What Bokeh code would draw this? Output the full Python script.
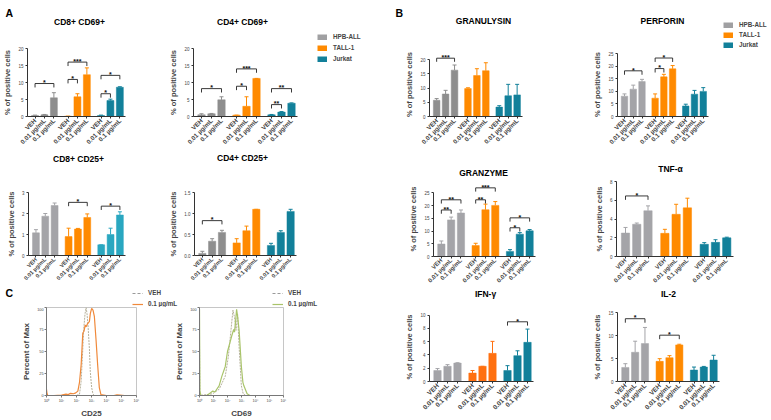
import math
import numpy as np
from bokeh.plotting import figure
from bokeh.layouts import row, column
from bokeh.models import (Range1d, ColumnDataSource, Whisker, TeeHead,
                          Legend, LegendItem, Label, FixedTicker, PrintfTickFormatter)
from bokeh.core.properties import value
from bokeh.embed import file_html
from bokeh.resources import INLINE

FONT = "Liberation Sans"

cell_lines = ["HPB-ALL", "TALL-1", "Jurkat"]
doses = ["VEH", "0.01 µg/mL", "0.1 µg/mL"]

# ---------------- Panel A ----------------
cd8_cd69_mean = [0.3, 0.5, 5.5, 0.1, 5.8, 12.3, 0.3, 4.7, 8.6]
cd8_cd69_err = [0.1, 0.1, 1.5, 0.0, 0.9, 2.0, 0.1, 0.4, 0.15]
cd8_cd69_sig_group = ["HPB-ALL", "TALL-1", "TALL-1", "Jurkat", "Jurkat"]
cd8_cd69_sig_to = ["0.1 µg/mL", "0.01 µg/mL", "0.1 µg/mL", "0.01 µg/mL", "0.1 µg/mL"]
cd8_cd69_sig_y = [9.7, 10.9, 16.0, 6.7, 12.1]
cd8_cd69_sig_text = ["*", "*", "***", "*", "*"]

cd4_cd69_mean = [0.5, 0.8, 4.9, 0.4, 3.0, 11.2, 0.5, 1.3, 3.9]
cd4_cd69_err = [0.3, 0.1, 0.9, 0.0, 2.8, 0.0, 0.1, 0.15, 0.1]
cd4_cd69_sig_group = ["HPB-ALL", "TALL-1", "TALL-1", "Jurkat", "Jurkat"]
cd4_cd69_sig_to = ["0.1 µg/mL", "0.01 µg/mL", "0.1 µg/mL", "0.01 µg/mL", "0.1 µg/mL"]
cd4_cd69_sig_y = [8.2, 8.9, 14.0, 3.5, 8.2]
cd4_cd69_sig_text = ["*", "*", "***", "**", "**"]

cd8_cd25_mean = [1.08, 1.87, 2.38, 0.9, 1.26, 1.81, 0.51, 1.0, 1.93]
cd8_cd25_err = [0.15, 0.13, 0.12, 0.4, 0.03, 0.17, 0.0, 0.3, 0.15]
cd8_cd25_sig_group = ["TALL-1", "Jurkat"]
cd8_cd25_sig_to = ["0.1 µg/mL", "0.1 µg/mL"]
cd8_cd25_sig_y = [2.53, 2.35]
cd8_cd25_sig_text = ["*", "*"]

cd4_cd25_mean = [0.05, 0.34, 0.55, 0.3, 0.59, 1.1, 0.24, 0.55, 1.05]
cd4_cd25_err = [0.05, 0.06, 0.05, 0.1, 0.11, 0.0, 0.05, 0.04, 0.05]
cd4_cd25_sig_group = ["HPB-ALL"]
cd4_cd25_sig_to = ["0.1 µg/mL"]
cd4_cd25_sig_y = [0.83]
cd4_cd25_sig_text = ["*"]

# ---------------- Panel B ----------------
granulysin_mean = [5.7, 7.9, 16.3, 9.8, 14.4, 16.1, 3.3, 7.3, 7.6]
granulysin_err = [0.6, 1.3, 1.8, 0.3, 2.4, 2.8, 0.5, 4.0, 3.7]
granulysin_sig_group = ["HPB-ALL"]
granulysin_sig_to = ["0.1 µg/mL"]
granulysin_sig_y = [20.5]
granulysin_sig_text = ["***"]

perforin_mean = [8.1, 10.9, 13.9, 7.3, 15.8, 19.0, 4.2, 8.9, 10.0]
perforin_err = [0.9, 1.6, 0.9, 1.7, 1.0, 1.3, 0.7, 1.5, 1.5]
perforin_sig_group = ["HPB-ALL", "TALL-1", "TALL-1"]
perforin_sig_to = ["0.1 µg/mL", "0.01 µg/mL", "0.1 µg/mL"]
perforin_sig_y = [18.2, 19.1, 23.3]
perforin_sig_text = ["*", "*", "*"]

granzyme_mean = [4.9, 14.4, 17.1, 4.3, 18.4, 20.1, 2.0, 8.8, 10.1]
granzyme_err = [1.2, 1.1, 1.2, 0.9, 2.2, 1.5, 0.7, 0.6, 0.5]
granzyme_sig_group = ["HPB-ALL", "HPB-ALL", "TALL-1", "TALL-1", "Jurkat", "Jurkat"]
granzyme_sig_to = ["0.01 µg/mL", "0.1 µg/mL", "0.01 µg/mL", "0.1 µg/mL", "0.01 µg/mL", "0.1 µg/mL"]
granzyme_sig_y = [18.3, 22.3, 22.3, 27.0, 11.3, 15.2]
granzyme_sig_text = ["**", "**", "**", "***", "*", "*"]

tnf_mean = [2.5, 3.44, 4.88, 2.47, 4.5, 5.19, 1.3, 1.51, 1.99]
tnf_err = [0.6, 0.13, 0.52, 0.43, 1.07, 1.03, 0.18, 0.28, 0.07]
tnf_sig_group = ["HPB-ALL"]
tnf_sig_to = ["0.1 µg/mL"]
tnf_sig_y = [6.46]
tnf_sig_text = ["*"]

ifn_mean = [1.66, 2.29, 2.78, 1.27, 2.29, 4.24, 1.66, 3.9, 5.9]
ifn_err = [0.29, 0.25, 0.05, 0.39, 0.0, 1.81, 0.73, 0.73, 2.0]
ifn_sig_group = ["Jurkat"]
ifn_sig_to = ["0.1 µg/mL"]
ifn_sig_y = [9.0]
ifn_sig_text = ["*"]

il2_mean = [3.06, 6.35, 8.25, 4.38, 5.18, 7.96, 2.48, 3.14, 4.67]
il2_err = [0.81, 2.41, 3.5, 0.58, 0.44, 0.14, 0.66, 0.14, 1.03]
il2_sig_group = ["HPB-ALL", "TALL-1"]
il2_sig_to = ["0.1 µg/mL", "0.1 µg/mL"]
il2_sig_y = [13.65, 10.07]
il2_sig_text = ["*", "*"]

# ---------------- Panel C (log10 fluorescence, % of max) ----------------
hist_ticks = [0, 1, 2, 3, 4, 5, 6]
hist_tick_labels = ["10⁰", "10¹", "10²", "10³", "10⁴", "10⁵", "10⁶"]
hist_series = ["VEH", "0.1 µg/mL"]

cd25_veh_x = [0, 1.0, 2.0, 2.2, 2.31, 2.42, 2.48, 2.57, 2.64, 2.70, 2.77, 2.86, 2.92, 3.01, 3.10, 3.19, 4.0, 6.0]
cd25_veh_y = [0, 0, 0, 1.5, 16, 53, 75, 93, 100, 93, 79, 53, 27, 9, 1.5, 0, 0, 0]
cd25_trt_x = [0, 0.03, 0.08, 0.5, 1.0, 1.3, 1.45, 1.6, 1.8, 1.95, 2.09, 2.2, 2.31, 2.42, 2.5,
              2.58, 2.64, 2.75, 2.86, 2.92, 3.01, 3.10, 3.19, 3.30, 3.41, 3.52, 3.63, 4.0, 4.5,
              4.7, 4.9, 5.2, 6.0]
cd25_trt_y = [7, 3, 0, 0, 0.5, 1.5, 1, 2.5, 2, 3, 5, 15, 35, 71, 73, 80, 78, 82, 84, 93, 99, 97,
              90, 64, 35, 9, 1, 0, 0, 0.8, 0.5, 0, 0]

cd69_veh_x = [0, 0.03, 0.95, 1.1, 1.4, 1.84, 2.06, 2.29, 2.39, 2.5, 2.61, 2.72, 2.83, 2.99, 3.12, 3.3, 6.0]
cd69_veh_y = [60, 0, 2, 4, 7, 22, 44, 81, 97, 89, 74, 93, 55, 11, 2, 0, 0]
cd69_trt_x = [0, 0.03, 0.1, 0.5, 0.7, 0.95, 1.1, 1.4, 1.6, 1.84, 2.0, 2.29, 2.44, 2.5, 2.58, 2.65,
              2.72, 2.83, 2.99, 3.1, 3.17, 3.4, 3.6, 6.0]
cd69_trt_y = [98, 5, 0, 0, 2, 5, 4, 11, 22, 33, 50, 67, 75, 72, 85, 98, 90, 74, 33, 15, 11, 2, 0, 0]

GRAY_D = "#8e8e8e"
GRAY_L = "#a4a4a8"
ORANGE = "#ff8a00"
TEAL = "#12809a"
TEAL_L = "#2aa7c0"
LEGEND_COLORS = ["#a0a0a2", "#ff8a00", "#12809a"]
CD25_COLOR = "#f0893a"
CD69_COLOR = "#a9c46a"
VEH_COLOR = "#b5b09a"
VEH_LEGEND = "#9a9a9a"

GROUP_STEP = 3.5  # distance between first bars of consecutive cell lines
NO_DATA = np.array([np.nan])  # legend-only renderers draw nothing in the plot


def xpos(group, dose):
    v = cell_lines.index(group) * GROUP_STEP + doses.index(dose)
    return int(v) if v == int(v) else v


def base_style(p):
    p.xgrid.visible = False
    p.ygrid.visible = False
    p.outline_line_color = None
    p.background_fill_color = "white"
    p.border_fill_color = "white"


def bar_chart(means, errs, sig_group, sig_to, sig_y, sig_text, colors, yticks, ymax,
              canvas, frame, fmt=None, xfont="6.3px"):
    cx0, cx1, cy0, cy1 = canvas
    fl, fr, ft, fb = frame
    p = figure(width=cx1 - cx0, height=cy1 - cy0, x_range=Range1d(-0.8, 9.6),
               y_range=Range1d(0, ymax), output_backend="svg", toolbar_location=None,
               title=None,
               min_border_left=fl - cx0, min_border_right=cx1 - fr,
               min_border_top=ft - cy0, min_border_bottom=cy1 - fb)
    base_style(p)

    ppu = (fb - ft) / ymax
    tick_pos, tick_lab = [], []
    for i, g in enumerate(cell_lines):
        m = means[i * 3:(i + 1) * 3]
        e = errs[i * 3:(i + 1) * 3]
        xs = [xpos(g, d) for d in doses]
        tick_pos += xs
        tick_lab += doses
        src = ColumnDataSource(dict(x=xs, top=m, upper=[a + b for a, b in zip(m, e)]))
        p.vbar(x="x", top="top", width=0.74, source=src, fill_color=colors[i],
               line_color=colors[i], line_width=0.5)
        w = Whisker(source=src, base="x", upper="upper", lower="top", dimension="height",
                    line_color=colors[i], line_width=1,
                    upper_head=TeeHead(size=4, line_color=colors[i], line_width=1),
                    lower_head=None)
        p.add_layout(w)

    arm = 4.0 / ppu
    hx0, hx1, hy = [], [], []
    ax, ay0, ay1 = [], [], []
    sx, sy = [], []
    for g, t, h in zip(sig_group, sig_to, sig_y):
        a, b = xpos(g, "VEH"), xpos(g, t)
        hx0.append(a)
        hx1.append(b)
        hy.append(h)
        ax += [a, b]
        ay0 += [h - arm, h - arm]
        ay1 += [h, h]
        sx.append((a + b) / 2.0)
        sy.append(h + 0.8 / ppu)
    p.segment(x0=hx0, x1=hx1, y0=hy, y1=hy, line_color="#222222", line_width=0.9)
    p.segment(x0=ax, x1=ax, y0=ay0, y1=ay1, line_color="#222222", line_width=0.9)
    p.text(x=sx, y=sy, text=sig_text, text_align="center", text_baseline="alphabetic",
           text_font=value(FONT), text_font_size="7px", text_font_style="bold",
           text_color="#111111")

    # axes
    p.yaxis.ticker = FixedTicker(ticks=yticks)
    p.yaxis.bounds = (0, yticks[-1])
    if fmt:
        p.yaxis.formatter = PrintfTickFormatter(format=fmt)
    p.yaxis.axis_label = "% of positive cells"
    p.yaxis.axis_label_text_font = FONT
    p.yaxis.axis_label_text_font_size = "7.5px"
    p.yaxis.axis_label_text_font_style = "bold"
    p.yaxis.axis_label_standoff = 3
    p.yaxis.major_label_text_font = FONT
    p.yaxis.major_label_text_font_size = "4.5px"
    p.yaxis.major_label_standoff = 2
    p.yaxis.major_tick_out = 2
    p.yaxis.major_tick_in = 0
    p.yaxis.minor_tick_line_color = None
    p.yaxis.axis_line_color = "#333333"
    p.yaxis.major_tick_line_color = "#333333"

    p.xaxis.ticker = FixedTicker(ticks=tick_pos)
    p.xaxis.major_label_overrides = {t: l for t, l in zip(tick_pos, tick_lab)}
    p.xaxis.major_label_orientation = math.pi / 4
    p.xaxis.major_label_text_font = FONT
    p.xaxis.major_label_text_font_size = xfont
    p.xaxis.major_label_text_font_style = "bold"
    p.xaxis.major_label_standoff = 1
    p.xaxis.major_tick_out = 2
    p.xaxis.major_tick_in = 0
    p.xaxis.minor_tick_line_color = None
    p.xaxis.axis_line_color = "#333333"
    p.xaxis.major_tick_line_color = "#333333"
    return p


def hist_chart(xlabel, veh_x, veh_y, trt_x, trt_y, trt_color, canvas, frame):
    cx0, cx1, cy0, cy1 = canvas
    fl, fr, ft, fb = frame
    p = figure(width=cx1 - cx0, height=cy1 - cy0, x_range=Range1d(0, 6), y_range=Range1d(0, 100),
               output_backend="svg", toolbar_location=None, title=None,
               min_border_left=fl - cx0, min_border_right=cx1 - fr,
               min_border_top=ft - cy0, min_border_bottom=cy1 - fb)
    base_style(p)
    p.outline_line_color = "#b8b8b8"
    p.outline_line_width = 0.8
    p.line(veh_x, veh_y, line_color=VEH_COLOR, line_dash="2 1", line_width=1)
    p.line(trt_x, trt_y, line_color=trt_color, line_width=1.2)
    p.xaxis.ticker = FixedTicker(ticks=hist_ticks)
    p.xaxis.major_label_overrides = {t: l for t, l in zip(hist_ticks, hist_tick_labels)}
    p.yaxis.ticker = FixedTicker(ticks=[0, 25, 50, 75, 100])
    for ax in (p.xaxis, p.yaxis):
        ax.major_label_text_font = FONT
        ax.major_label_text_font_size = "3.8px"
        ax.major_label_standoff = 1
        ax.major_tick_out = 2
        ax.major_tick_in = 0
        ax.minor_tick_line_color = None
        ax.axis_line_color = "#777777"
        ax.major_tick_line_color = "#777777"
        ax.axis_label_text_font = FONT
        ax.axis_label_text_font_size = "8px"
        ax.axis_label_text_font_style = "bold"
        ax.axis_label_standoff = 3
    p.xaxis.axis_label = xlabel
    p.yaxis.axis_label = "Percent of Max"
    return p


def blank(width, height):
    p = figure(width=width, height=height, x_range=Range1d(0, 1), y_range=Range1d(0, 1),
               output_backend="svg", toolbar_location=None, title=None,
               x_axis_location=None, y_axis_location=None,
               min_border_left=0, min_border_right=0, min_border_top=0, min_border_bottom=0)
    base_style(p)
    return p


def letter(p, txt, x, y):
    p.add_layout(Label(x=x, y=y, x_units="screen", y_units="screen", text=txt,
                       text_font=FONT, text_font_size="10.5px", text_font_style="bold",
                       text_baseline="alphabetic", text_color="black"))


def heading(p, txt, x, y):
    p.add_layout(Label(x=x, y=y, x_units="screen", y_units="screen", text=txt,
                       text_font=FONT, text_font_size="8.5px", text_font_style="bold",
                       text_align="center", text_baseline="middle", text_color="black"))


def bar_legend(p, x, y, spacing):
    items = []
    for g, c in zip(cell_lines, LEGEND_COLORS):
        r = p.line(x=NO_DATA, y=NO_DATA, line_color=c, line_width=6, line_cap="butt")
        items.append(LegendItem(label=g, renderers=[r]))
    p.add_layout(Legend(items=items, location=(x, y), glyph_width=10, glyph_height=6,
                        label_height=6, label_text_font=FONT, label_text_font_size="6.3px",
                        label_text_font_style="bold", spacing=spacing, padding=0, margin=0,
                        border_line_color=None, background_fill_alpha=0, label_standoff=6))


def line_legend(p, x, y, trt_color):
    r1 = p.line(x=NO_DATA, y=NO_DATA, line_color=VEH_LEGEND, line_dash="3 2", line_width=1)
    r2 = p.line(x=NO_DATA, y=NO_DATA, line_color=trt_color, line_width=1.2)
    items = [LegendItem(label=hist_series[0], renderers=[r1]),
             LegendItem(label=hist_series[1], renderers=[r2])]
    p.add_layout(Legend(items=items, location=(x, y), glyph_width=11, glyph_height=6,
                        label_height=6, label_text_font=FONT, label_text_font_size="6.3px",
                        label_text_font_style="bold", spacing=4, padding=0, margin=0,
                        border_line_color=None, background_fill_alpha=0, label_standoff=5))


# The page is drawn edge to edge: layout coordinates below are page pixels.
# ---------- left column (x 0..390) ----------
stripA = blank(300, 30)              # y 0..30
letter(stripA, "A", 5, 17.5)
heading(stripA, "CD8+ CD69+", 79, 9)
heading(stripA, "CD4+ CD69+", 242, 9)

f1 = bar_chart(cd8_cd69_mean, cd8_cd69_err, cd8_cd69_sig_group, cd8_cd69_sig_to,
               cd8_cd69_sig_y, cd8_cd69_sig_text, [GRAY_D, ORANGE, TEAL], [0, 5, 10, 15, 20], 20,
               (0, 166, 30, 150), (25, 125, 48, 117))
f2 = bar_chart(cd4_cd69_mean, cd4_cd69_err, cd4_cd69_sig_group, cd4_cd69_sig_to,
               cd4_cd69_sig_y, cd4_cd69_sig_text, [GRAY_D, ORANGE, TEAL], [0, 5, 10, 15, 20], 20,
               (166, 300, 30, 150), (188, 297, 48, 118))
legA = blank(90, 150)                # x 300..390, y 0..150
bar_legend(legA, 17, 88, 4)

stripA2 = blank(390, 26)             # y 150..176
heading(stripA2, "CD8+ CD25+", 78, 18)
heading(stripA2, "CD4+ CD25+", 242, 19)

f3 = bar_chart(cd8_cd25_mean, cd8_cd25_err, cd8_cd25_sig_group, cd8_cd25_sig_to,
               cd8_cd25_sig_y, cd8_cd25_sig_text, [GRAY_L, ORANGE, TEAL_L], [0, 1, 2, 3], 3,
               (0, 166, 176, 286), (28, 125, 192, 258), xfont="5.6px")
f4 = bar_chart(cd4_cd25_mean, cd4_cd25_err, cd4_cd25_sig_group, cd4_cd25_sig_to,
               cd4_cd25_sig_y, cd4_cd25_sig_text, [GRAY_D, ORANGE, TEAL], [0, 0.5, 1.0, 1.5], 1.5,
               (166, 390, 176, 286), (192, 296, 191, 258), fmt="%.1f", xfont="5.6px")

stripC = blank(390, 21)              # y 286..307
letter(stripC, "C", 5, 14.5)
line_legend(stripC, 132, 0, CD25_COLOR)
line_legend(stripC, 272, 0, CD69_COLOR)

h1 = hist_chart("CD25", cd25_veh_x, cd25_veh_y, cd25_trt_x, cd25_trt_y, CD25_COLOR,
                (0, 172, 307, 420), (46, 136, 307, 397))
h2 = hist_chart("CD69", cd69_veh_x, cd69_veh_y, cd69_trt_x, cd69_trt_y, CD69_COLOR,
                (172, 390, 307, 420), (193, 283, 307, 397))

# ---------- right column (x 390..771) ----------
stripB = blank(320, 30)              # x 390..710, y 0..30
letter(stripB, "B", 5, 17.5)
heading(stripB, "GRANULYSIN", 93, 10)
heading(stripB, "PERFORIN", 272, 10)

g1 = bar_chart(granulysin_mean, granulysin_err, granulysin_sig_group,
               granulysin_sig_to, granulysin_sig_y, granulysin_sig_text, [GRAY_D, ORANGE, TEAL],
               [0, 5, 10, 15, 20], 22.5, (390, 585, 30, 150), (429, 522, 46, 117))
g2 = bar_chart(perforin_mean, perforin_err, perforin_sig_group, perforin_sig_to,
               perforin_sig_y, perforin_sig_text, [GRAY_L, ORANGE, TEAL], [0, 5, 10, 15, 20, 25],
               25.5, (585, 710, 30, 150), (617, 708, 52, 117))
legB = blank(61, 150)                # x 710..771, y 0..150
bar_legend(legB, 13, 102, 3)

stripB2 = blank(381, 26)             # y 150..176
heading(stripB2, "GRANZYME", 93, 4)
heading(stripB2, "TNF-α", 280, 8)

g3 = bar_chart(granzyme_mean, granzyme_err, granzyme_sig_group, granzyme_sig_to,
               granzyme_sig_y, granzyme_sig_text, [GRAY_L, ORANGE, TEAL], [0, 5, 10, 15, 20, 25],
               29.5, (390, 585, 176, 288), (433, 535, 178, 258), xfont="6px")
g4 = bar_chart(tnf_mean, tnf_err, tnf_sig_group, tnf_sig_to, tnf_sig_y, tnf_sig_text,
               [GRAY_L, ORANGE, TEAL], [0, 2, 4, 6, 8], 8, (585, 771, 176, 288),
               (616, 733, 181, 258), xfont="6px")

stripB3 = blank(381, 15)             # y 288..303
heading(stripB3, "IFN-γ", 95, 10)
heading(stripB3, "IL-2", 278, 10)

g5 = bar_chart(ifn_mean, ifn_err, ifn_sig_group, ifn_sig_to, ifn_sig_y, ifn_sig_text,
               [GRAY_L, "#ff7010", TEAL], [0, 2, 4, 6, 8, 10], 10.4, (390, 585, 303, 420),
               (429, 533, 309, 381), xfont="6.5px")
g6 = bar_chart(il2_mean, il2_err, il2_sig_group, il2_sig_to, il2_sig_y, il2_sig_text,
               [GRAY_L, ORANGE, TEAL], [0, 5, 10, 15], 15, (585, 771, 303, 420),
               (617, 719, 312, 381), xfont="6.5px")

left = column(row(column(stripA, row(f1, f2)), legA), stripA2, row(f3, f4), stripC, row(h1, h2))
right = column(row(column(stripB, row(g1, g2)), legB), stripB2, row(g3, g4), stripB3, row(g5, g6))
layout = row(left, right)

open("out.html", "w").write(file_html(layout, INLINE))
